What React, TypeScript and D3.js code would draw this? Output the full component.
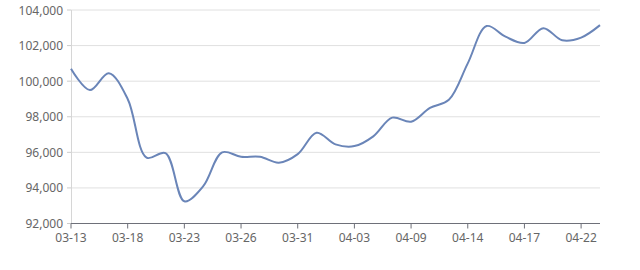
import React from "react";
import * as d3 from "d3";

const categories = [
  "03-13", "03-14", "03-15", "03-18", "03-19", "03-20", "03-23", "03-24", "03-25", "03-26",
  "03-27", "03-28", "03-31", "04-01", "04-02", "04-03", "04-07", "04-08", "04-09", "04-10",
  "04-11", "04-14", "04-15", "04-16", "04-17", "04-18", "04-21", "04-22", "04-23",
];
const prices = [
  100700, 99500, 100450, 99000, 95700, 95950, 93250, 94100, 96000, 95750,
  95750, 95420, 95900, 97100, 96450, 96350, 96900, 97950, 97720, 98500,
  98950, 101000, 103100, 102500, 102150, 102980, 102300, 102450, 103150,
];
const yTicks = [92000, 94000, 96000, 98000, 100000, 102000, 104000];

export default function App() {
  const width = 640;
  const height = 270;
  const left = 71;
  const right = 600;
  const top = 10;
  const bottom = 223.5;

  const x = d3.scalePoint<string>().domain(categories).range([left, right]);
  const y = d3.scaleLinear().domain([92000, 104000]).range([bottom, top]);
  const line = d3
    .line<number>()
    .x((_, i) => x(categories[i]) as number)
    .y((d) => y(d))
    .curve(d3.curveCatmullRom.alpha(0.5));

  const fmt = d3.format(",");
  const labelIdx = categories.map((_, i) => i).filter((i) => i % 3 === 0);

  return (
    <svg
      width={width}
      height={height}
      style={{ position: "absolute", left: 0, top: 0, background: "#fff" }}
      fontFamily="'Microsoft YaHei', 'Noto Sans', sans-serif"
    >
      {yTicks.map((t) => (
        <g key={t}>
          {t !== 92000 && (
            <line x1={left} x2={right} y1={y(t)} y2={y(t)} stroke="#e0e0e0" strokeWidth={1} />
          )}
          <line x1={left - 4} x2={left} y1={y(t)} y2={y(t)} stroke="#cccccc" />
          <text
            x={left - 8}
            y={y(t)}
            textAnchor="end"
            dominantBaseline="central"
            fontSize={12}
            fill="#666"
          >
            {fmt(t)}
          </text>
        </g>
      ))}
      <line x1={left + 0.5} x2={left + 0.5} y1={top} y2={bottom} stroke="#d6d6d6" />
      <line x1={left} x2={right} y1={bottom} y2={bottom} stroke="#6e7079" />
      {labelIdx.map((i) => {
        const px = x(categories[i]) as number;
        return (
          <g key={categories[i]}>
            <line x1={px} x2={px} y1={bottom} y2={bottom + 5} stroke="#6e7079" />
            <text x={px} y={bottom + 14} textAnchor="middle" dominantBaseline="central" fontSize={12} fill="#666">
              {categories[i]}
            </text>
          </g>
        );
      })}
      <path d={line(prices) ?? ""} fill="none" stroke="#6a85b8" strokeWidth={2} />
    </svg>
  );
}
